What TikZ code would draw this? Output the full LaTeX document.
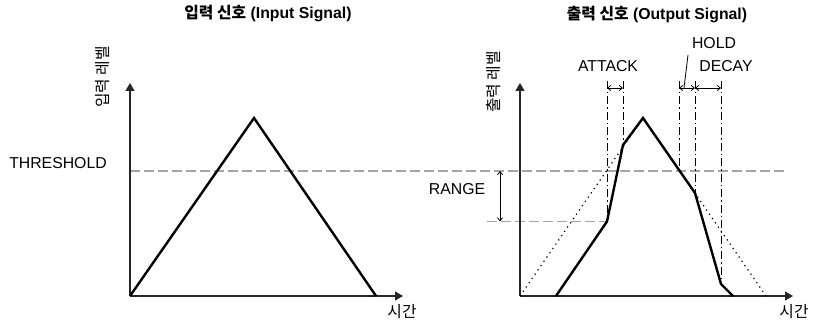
\documentclass[tikz,border=0pt]{standalone}
\usepackage{fontspec}
\setmainfont{Liberation Sans}
\newfontfamily\kr{Noto Sans CJK KR}
\usetikzlibrary{arrows.meta}

\begin{document}
\begin{tikzpicture}[
  x=0.5pt, y=-0.5pt,
  font=\fontsize{7.9}{9}\selectfont,
  lbl/.style={inner sep=0pt},
  title/.style={inner sep=0pt,font=\fontsize{7.9}{9}\selectfont\bfseries},
  axis/.style={draw=black!85,line width=0.6pt,-{Triangle[length=4pt,width=4.5pt]}},
  sig/.style={line width=1.2pt,line join=miter},
  ref/.style={dotted,line width=0.6pt},
  lvl/.style={draw=black!35,line width=0.6pt,dash pattern=on 5pt off 2pt},
  tline/.style={line width=0.4pt,dash pattern=on 4pt off 1.5pt on 0.75pt off 1.5pt},
  dim/.style={line width=0.4pt,{Straight Barb[length=1.6pt,width=2.6pt]}-{Straight Barb[length=1.6pt,width=2.6pt]}},
]
  \useasboundingbox (0,0) rectangle (814,324);

  % titles and labels
  \node[title] (tin) at (268,14) {{\kr 입력 신호} (Input Signal)};
  \node[title] (tout) at (657,15) {{\kr 출력 신호} (Output Signal)};
  \node[lbl,rotate=90] (yin) at (103,77) {\kr 입력 레벨};
  \node[lbl,rotate=90] (yout) at (494,82) {\kr 출력 레벨};
  \node[lbl] (xin) at (402,312) {\kr 시간};
  \node[lbl] (xout) at (794,312) {\kr 시간};
  \node[lbl] (thr) at (58,163) {THRESHOLD};
  \node[lbl] (rng) at (457,189) {RANGE};
  \node[lbl] (att) at (608,66) {ATTACK};
  \node[lbl] (hold) at (714,43) {HOLD};
  \node[lbl] (dec) at (726,66) {DECAY};

  % levels
  \coordinate (thrL) at (130,171);
  \coordinate (thrR) at (785,171);
  \coordinate (rngL) at (487,221.5);
  \coordinate (rngR) at (607,221.5);
  \draw[lvl] (thrL) -- (thrR);
  \draw[lvl] (rngL) -- (rngR);
  \draw[dim] (500,171) -- (500,221.5);

  % input signal
  \coordinate (lo) at (130,296);
  \draw[axis] (lo) -- (130,83);
  \draw[axis] (lo) -- (403,296);
  \coordinate (lpeak) at (254,118);
  \coordinate (lfall) at (376,296);
  \draw[sig] (lo) -- (lpeak) -- (lfall);

  % output signal
  \coordinate (ro) at (520,296);
  \draw[axis] (ro) -- (520,83);
  \draw[axis] (ro) -- (793,296);
  \coordinate (rpeak) at (643,118);
  \coordinate (rfall) at (766,296);
  \draw[ref] (ro) -- (rpeak) -- (rfall);
  \coordinate (s0) at (556,296);
  \coordinate (s1) at (607,221.5);
  \coordinate (s2) at (623,145);
  \coordinate (s3) at (679,170);
  \coordinate (s4) at (695,193);
  \coordinate (s5) at (721,284);
  \coordinate (s6) at (733,296);
  \draw[sig] (s0) -- (s1) -- (s2) -- (rpeak) -- (s4) -- (s5) -- (s6);

  % time marks
  \foreach \p in {s1,s2,s3,s4,s5}
    \draw[tline] (\p |- 0,81) -- (\p);
  \draw[dim] (s1 |- 0,88) -- (s2 |- 0,88);
  \draw[dim] (s3 |- 0,88) -- (s4 |- 0,88);
  \draw[dim] (s4 |- 0,88) -- (s5 |- 0,88);
  \draw[line width=0.4pt] (688,55) -- (684,88);
\end{tikzpicture}
\end{document}
